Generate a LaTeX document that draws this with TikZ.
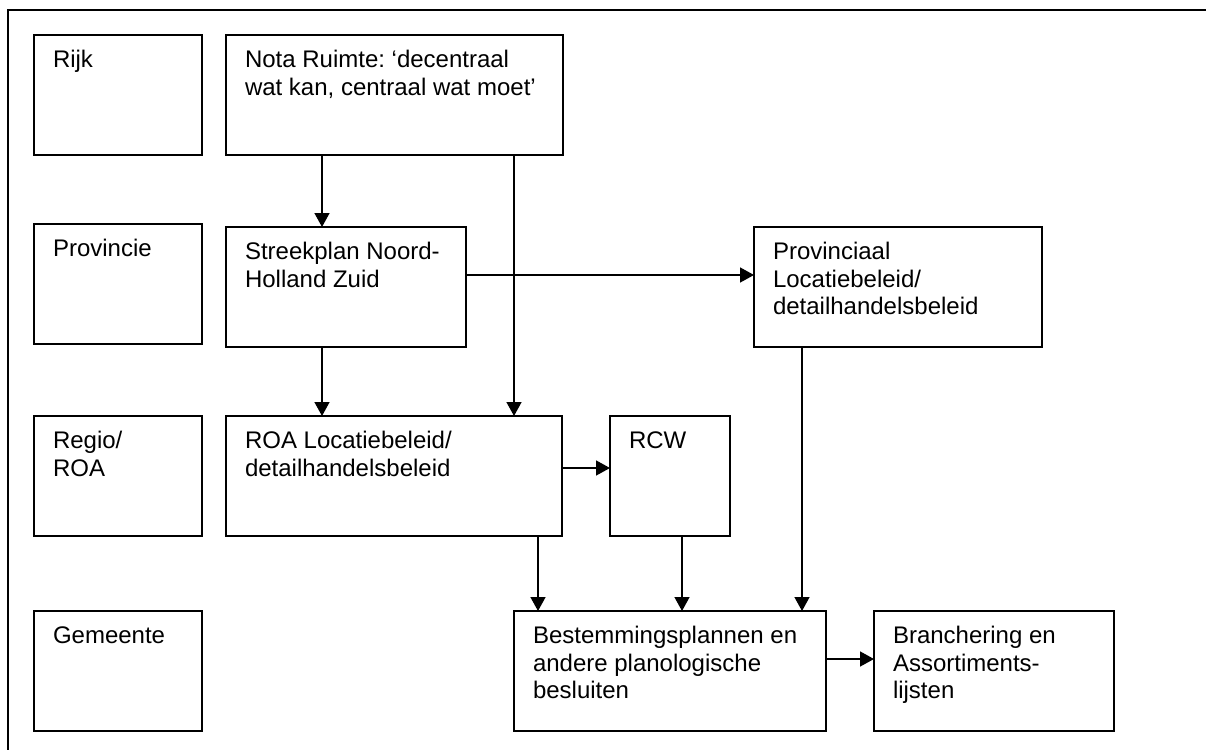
\documentclass[tikz,border=0pt]{standalone}
\usepackage{fontspec}
\setmainfont{Liberation Sans}
\usetikzlibrary{arrows.meta}
\frenchspacing
\tikzset{
  boxst/.style={draw, line width=1.8pt, outer sep=0pt, inner sep=0pt, rectangle},
  txtst/.style={anchor=north west, inner sep=0pt, outer sep=0pt, align=left,
    font=\fontsize{24}{27.6}\selectfont},
  arr/.style={line width=1.5pt, -{Triangle[length=14pt,width=15pt]}},
  frame/.style={line width=1.8pt}
}
\newcommand\tpos[1]{([xshift=19pt,yshift=-13.4pt]#1.north west)}
\begin{document}
\begin{tikzpicture}[x=1pt,y=-1pt]
\useasboundingbox (0,0) rectangle (1206,749);
\draw[frame] (8,760) -- (8,10) -- (1220,10);
% boxes
\node[boxst, minimum width=168pt, minimum height=120pt] (rijk) at (118,95) {};
\node[txtst] (rijk-t) at \tpos{rijk} {\strut Rijk};
\node[boxst, minimum width=337pt, minimum height=120pt] (nota) at (394.5,95) {};
\node[txtst] (nota-t) at \tpos{nota} {\strut Nota Ruimte: ‘decentraal\\wat kan, centraal wat moet’};
\node[boxst, minimum width=168pt, minimum height=120pt] (prov) at (118,284) {};
\node[txtst] (prov-t) at \tpos{prov} {\strut Provincie};
\node[boxst, minimum width=240pt, minimum height=120pt] (streek) at (346,287) {};
\node[txtst] (streek-t) at \tpos{streek} {\strut Streekplan Noord-\\Holland Zuid};
\node[boxst, minimum width=288pt, minimum height=120pt] (provloc) at (898,287) {};
\node[txtst] (provloc-t) at \tpos{provloc} {\strut Provinciaal\\Locatiebeleid/\\detailhandelsbeleid};
\node[boxst, minimum width=168pt, minimum height=120pt] (regio) at (118,476) {};
\node[txtst] (regio-t) at \tpos{regio} {\strut Regio/\\ROA};
\node[boxst, minimum width=336pt, minimum height=120pt] (roa) at (394,476) {};
\node[txtst] (roa-t) at \tpos{roa} {\strut ROA Locatiebeleid/\\detailhandelsbeleid};
\node[boxst, minimum width=120pt, minimum height=120pt] (rcw) at (670,476) {};
\node[txtst] (rcw-t) at \tpos{rcw} {\strut RCW};
\node[boxst, minimum width=168pt, minimum height=120pt] (gem) at (118,671) {};
\node[txtst] (gem-t) at \tpos{gem} {\strut Gemeente};
\node[boxst, minimum width=312pt, minimum height=120pt] (best) at (670,671) {};
\node[txtst] (best-t) at \tpos{best} {\strut Bestemmingsplannen en\\andere planologische\\besluiten};
\node[boxst, minimum width=240pt, minimum height=120pt] (branch) at (994,671) {};
\node[txtst] (branch-t) at \tpos{branch} {\strut Branchering en\\Assortiments-\\lijsten};
% connector columns / rows
\coordinate (xa) at (322,0);
\coordinate (xb) at (514,0);
\coordinate (xc) at (538,0);
\coordinate (xd) at (682,0);
\coordinate (xe) at (802,0);
\coordinate (ya) at (0,275);
\coordinate (yb) at (0,468);
\coordinate (yc) at (0,659);
% connectors
\draw[arr] (xa |- nota.south) -- (xa |- streek.north);
\draw[arr] (xb |- nota.south) -- (xb |- roa.north);
\draw[arr] (streek.east |- ya) -- (provloc.west |- ya);
\draw[arr] (xa |- streek.south) -- (xa |- roa.north);
\draw[arr] (roa.east |- yb) -- (rcw.west |- yb);
\draw[arr] (xc |- roa.south) -- (xc |- best.north);
\draw[arr] (xd |- rcw.south) -- (xd |- best.north);
\draw[arr] (xe |- provloc.south) -- (xe |- best.north);
\draw[arr] (best.east |- yc) -- (branch.west |- yc);
\end{tikzpicture}
\end{document}
